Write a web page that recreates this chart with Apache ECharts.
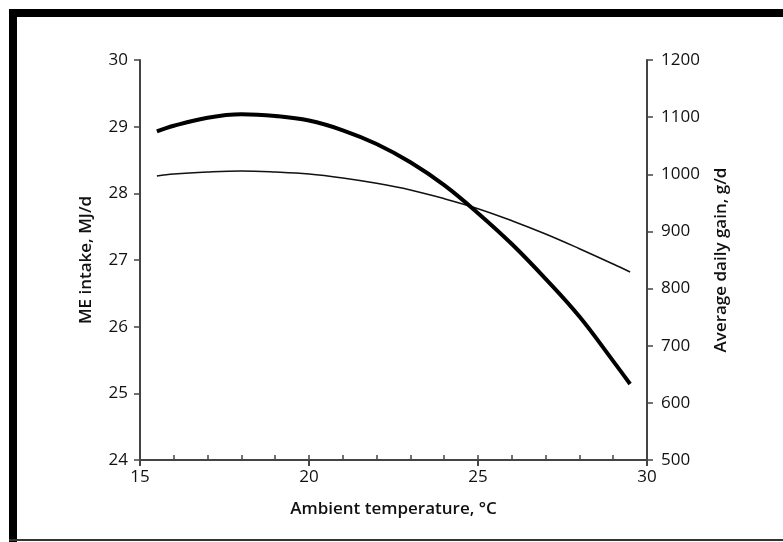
<!DOCTYPE html>
<html lang="en">
<head>
    <meta charset="UTF-8">
    <title>ME intake and daily gain</title>
    <script src="https://cdn.jsdelivr.net/npm/echarts@6/dist/echarts.min.js"></script>
    <style>
        body { margin: 0; background: #fff; }
    </style>
</head>
<body>
    <div id="ec" style="width:783px;height:542px"></div>
</body>
<script>
    // values
    var temps = [15.5, 16, 17, 18, 19, 20, 21, 22, 23, 24, 25, 26, 27, 28, 29, 29.5]
    var meIntake = [28.26, 28.29, 28.32, 28.335, 28.32, 28.29, 28.23, 28.15, 28.05, 27.92, 27.77, 27.59, 27.39, 27.17, 26.94, 26.82]
    var dailyGain = [1075, 1085, 1099, 1105, 1102, 1094, 1077, 1053, 1021, 981, 932, 878, 817, 751, 673, 633]

    var font = '"Open Sans", sans-serif'
    var axisColor = '#444'

    function pairs(xs, ys) {
        return xs.map(function (x, i) { return [x, ys[i]] })
    }

    var mychart = echarts.init(document.getElementById('ec'))
    var options = {
        animation: false,
        backgroundColor: '#fff',
        grid: { left: 140, right: 136, top: 60, bottom: 82 },
        xAxis: [{
            type: 'value',
            position: 'bottom',
            min: 15, max: 30, interval: 5,
            name: 'Ambient temperature, °C',
            nameLocation: 'middle',
            nameGap: 41,
            nameTextStyle: { fontFamily: font, fontSize: 17, fontWeight: 600, color: '#111' },
            axisLine: { lineStyle: { color: axisColor, width: 2 } },
            axisTick: { show: true, length: 6, lineStyle: { color: axisColor, width: 2 } },
            axisLabel: { fontFamily: font, fontSize: 17, color: '#111', margin: 9 },
            splitLine: { show: false }
        }, {
            type: 'value',
            position: 'bottom',
            min: 15, max: 30, interval: 1,
            axisLine: { show: false },
            axisTick: { show: true, inside: true, length: 5, lineStyle: { color: axisColor, width: 1.5 } },
            axisLabel: { show: false },
            splitLine: { show: false }
        }],
        yAxis: [{
            type: 'value',
            position: 'left',
            min: 24, max: 30, interval: 1,
            name: 'ME intake, MJ/d',
            nameLocation: 'middle',
            nameGap: 45,
            nameTextStyle: { fontFamily: font, fontSize: 17, fontWeight: 600, color: '#111' },
            axisLine: { show: true, lineStyle: { color: axisColor, width: 2 } },
            axisTick: { show: true, length: 6, lineStyle: { color: axisColor, width: 1.5 } },
            axisLabel: { fontFamily: font, fontSize: 17, color: '#111', margin: 12 },
            splitLine: { show: false }
        }, {
            type: 'value',
            position: 'right',
            min: 500, max: 1200, interval: 100,
            name: 'Average daily gain, g/d',
            nameLocation: 'middle',
            nameGap: 66,
            nameTextStyle: { fontFamily: font, fontSize: 17, fontWeight: 600, color: '#111' },
            axisLine: { show: true, lineStyle: { color: axisColor, width: 2 } },
            axisTick: { show: true, length: 6, lineStyle: { color: axisColor, width: 1.5 } },
            axisLabel: { fontFamily: font, fontSize: 17, color: '#111', margin: 14, formatter: function (v) { return String(v) } },
            splitLine: { show: false }
        }],
        series: [{
            name: 'ME intake',
            type: 'line',
            yAxisIndex: 0,
            smooth: 0.4,
            showSymbol: false,
            lineStyle: { color: '#111', width: 1.6 },
            data: pairs(temps, meIntake)
        }, {
            name: 'Average daily gain',
            type: 'line',
            yAxisIndex: 1,
            smooth: 0.4,
            showSymbol: false,
            lineStyle: { color: '#000', width: 4 },
            data: pairs(temps, dailyGain)
        }],
        // frame around the figure
        graphic: [
            { type: 'rect', shape: { x: 9, y: 9, width: 774, height: 8 }, style: { fill: '#000' } },
            { type: 'rect', shape: { x: 9, y: 9, width: 8, height: 533 }, style: { fill: '#000' } },
            { type: 'rect', shape: { x: 9, y: 539, width: 774, height: 2 }, style: { fill: '#333' } }
        ]
    }
    mychart.setOption(options)
</script>
</html>
